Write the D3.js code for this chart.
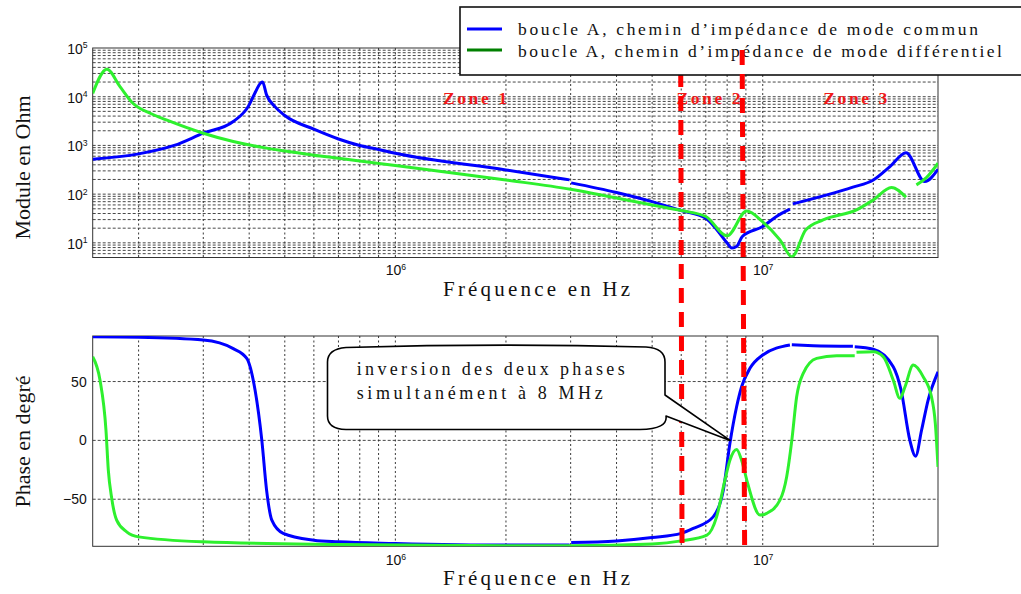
<!DOCTYPE html>
<html><head><meta charset="utf-8">
<script src="https://cdn.jsdelivr.net/npm/d3@7"></script>
<style>body{margin:0;background:#fff}svg{display:block}</style>
</head><body>
<svg id="c" width="1021" height="594"></svg>
<script>
// ---------- data ----------
const freqTickValues = [1e6, 1e7];
const magTickValues = [1e1, 1e2, 1e3, 1e4, 1e5];
const phaseTickValues = [-50, 0, 50];
const seriesNames = ["boucle A, chemin d\u2019imp\u00e9dance de mode commun",
                     "boucle A, chemin d\u2019imp\u00e9dance de mode diff\u00e9rentiel"];
const zoneLabels = ["Zone 1", "Zone 2", "Zone 3"];
const zoneLimits = [6e6, 8.9e6];
const calloutLines = ["inversion des deux phases", "simultan\u00e9ment \u00e0 8 MHz"];
const calloutTarget = [8.15e6, 0];

// module (Ohm), mode commun
const cmMag = [[1.5e5,520],[2e5,670],[2.5e5,1000],[3e5,1780],[3.62e5,3100],[4e5,6800],[4.1e5,10000],
  [4.35e5,20000],[4.46e5,10900],[4.7e5,6250],[5e5,4110],[6e5,2150],[7e5,1355],[8e5,995],[9e5,824],[1e6,689],
  [2e6,314],[2.98e6,196],null,[3.01e6,170],[4e6,108],[5e6,70],[6e6,46],[7e6,32],[7.5e6,18.5],[8e6,9.9],
  [8.24e6,7.8],[8.49e6,8.4],[8.8e6,13.5],[1e7,21.6],[1.09e7,34.7],[1.186e7,49],null,[1.207e7,63],
  [1.76e7,139],[2e7,195],[2.22e7,367],[2.455e7,711],[2.76e7,181],[3e7,324]];
// module (Ohm), mode differentiel
const dmMag = [[1.5e5,11700],[1.64e5,36600],[1.78e5,16100],[1.93e5,7350],[2.15e5,4570],[2.38e5,3330],
  [3e5,1780],[3.62e5,1200],[4.46e5,880],[5e5,771],[6e5,630],[7e5,546],[1e6,386],[2e6,195],[3e6,126],
  [4e6,83],[5e6,60],[6e6,46],[7e6,34.7],[8e6,13.9],[9.04e6,45],[1e7,27],[1.114e7,11.5],[1.2e7,5.2],
  [1.31e7,18.5],[1.46e7,29.5],[1.8e7,47.5],[2e7,76],[2.24e7,137],[2.455e7,86],null,[2.62e7,155],
  [2.79e7,218],[3e7,432]];
// phase (degres), mode commun
const cmPhase = [[1.5e5,88],[2e5,87.6],[3e5,85.3],[3.62e5,78],[3.94e5,69.7],[4.15e5,42.8],[4.33e5,0],
  [4.46e5,-42],[4.61e5,-67.8],[4.95e5,-79],[6e5,-84.8],[7e5,-86.2],[1e6,-87.6],[2e6,-89],[2.98e6,-89],
  null,[3.01e6,-86.7],[4e6,-85.4],[5e6,-82.5],[6e6,-79],[6.47e6,-74.8],[7.33e6,-65],[7.81e6,-42.3],
  [8.14e6,-2.6],[8.49e6,28.6],[8.76e6,45.6],[9.23e6,61.2],[1e7,72.5],[1.186e7,81],null,[1.2e7,81.2],
  [1.373e7,80.5],[1.76e7,80],null,[1.78e7,79.5],[2e7,77.4],[2.266e7,62.6],[2.38e7,42.8],[2.515e7,0],
  [2.607e7,-13.4],[2.707e7,8.8],[2.82e7,34.3],[3e7,58.3]];
// phase (degres), mode differentiel
const dmPhase = [[1.5e5,71],[1.57e5,51.3],[1.63e5,8.8],[1.654e5,-25],[1.69e5,-49.3],[1.743e5,-67.8],
  [1.856e5,-77.7],[2e5,-82],[3e5,-86.2],[7e5,-88.5],[2e6,-89.5],[3e6,-89.5],[5e6,-88],[6e6,-85.4],
  [7.05e6,-80.5],[7.49e6,-65],[7.89e6,-33.8],[8.14e6,-16.8],[8.49e6,-7.7],[8.76e6,-16.8],[9.1e6,-36.6],
  [9.83e6,-63.5],[1.025e7,-62],[1.114e7,-50.8],[1.162e7,-30.9],[1.2e7,0],[1.237e7,37],[1.289e7,57],
  [1.402e7,69.7],[1.589e7,72],[1.78e7,72],null,[1.8e7,74.8],[2e7,75.3],[2.13e7,71],[2.266e7,51.3],
  [2.363e7,35.7],[2.44e7,45.6],[2.568e7,64],[2.735e7,54],[2.88e7,37],[2.95e7,14.5],[3e7,-22.5]];

// ---------- layout ----------
const svg = d3.select("#c");
const L = 92.7, R = 938;
const T1 = 48, B1 = 257.5, T2 = 336, B2 = 546.3;
const blue = "#0000ff", green = "#2ef02e", red = "#ff0000";
const serif = "'Liberation Serif','Times New Roman',serif";
const sans = "'Liberation Sans',Arial,sans-serif";

const x = d3.scaleLog().domain([1.5e5, 3e7]).range([L, R]);
const yMag = d3.scaleLog().domain([5, 1e5]).range([B1, T1]);
const yPh = d3.scaleLinear().domain([-90, 88.7]).range([B2, T2]);

const xGrid = x.ticks().filter(v => v > 1.5e5 * 1.001 && v < 3e7 * 0.999);
const yGrid = yMag.ticks().filter(v => v > 5.01 && v < 0.999e5);

const defs = svg.append("defs");
defs.append("clipPath").attr("id","cp1").append("rect").attr("x",L).attr("y",T1).attr("width",R-L).attr("height",B1-T1);
defs.append("clipPath").attr("id","cp2").append("rect").attr("x",L).attr("y",T2).attr("width",R-L).attr("height",B2-T2);

function panel(yScale, top, bottom, hVals) {
  const g = svg.append("g");
  g.append("rect").attr("x",L).attr("y",top).attr("width",R-L).attr("height",bottom-top).attr("fill","#fff");
  g.selectAll(".vg").data(xGrid).join("line")
    .attr("x1",d=>x(d)).attr("x2",d=>x(d)).attr("y1",top).attr("y2",bottom)
    .attr("stroke","#222").attr("stroke-width",0.9).attr("stroke-dasharray","2,2.5");
  g.selectAll(".hg").data(hVals).join("line")
    .attr("x1",L).attr("x2",R).attr("y1",d=>yScale(d)).attr("y2",d=>yScale(d))
    .attr("stroke","#333").attr("stroke-width",0.9).attr("stroke-dasharray","3,2");
  return g;
}
panel(yMag, T1, B1, yGrid);
panel(yPh, T2, B2, phaseTickValues);

function supLabel(sel) {
  sel.each(function(d) {
    const t = d3.select(this);
    const e = Math.round(Math.log10(d));
    t.text(null);
    t.append("tspan").text("10");
    t.append("tspan").attr("dy","-0.62em").attr("font-size","0.62em").text(e);
  });
}

// axes
const ax1 = svg.append("g").attr("transform",`translate(0,${B1})`)
  .call(d3.axisBottom(x).tickValues(freqTickValues).tickSize(0).tickPadding(7.5));
const ax2 = svg.append("g").attr("transform",`translate(0,${B2})`)
  .call(d3.axisBottom(x).tickValues(freqTickValues).tickSize(0).tickPadding(8.7));
const ay1 = svg.append("g").attr("transform",`translate(${L},0)`)
  .call(d3.axisLeft(yMag).tickValues(magTickValues).tickSize(0).tickPadding(5));
const ay2 = svg.append("g").attr("transform",`translate(${L},0)`)
  .call(d3.axisLeft(yPh).tickValues(phaseTickValues).tickSize(0).tickPadding(6).tickFormat(d3.format("d")));
[ax1, ax2, ay1, ay2].forEach(a => {
  a.select(".domain").remove();
  a.attr("font-family", sans).attr("font-size", 14);
  a.selectAll("text").attr("fill","#111");
});
ax1.selectAll("text").call(supLabel);
ax2.selectAll("text").call(supLabel);
ay1.selectAll("text").call(supLabel);
ay1.selectAll("text").attr("dy","0.38em");

// frames
[[T1,B1],[T2,B2]].forEach(([t,b]) => {
  svg.append("rect").attr("x",L).attr("y",t).attr("width",R-L).attr("height",b-t)
    .attr("fill","none").attr("stroke","#333").attr("stroke-width",1);
});

// curves
const lineMag = d3.line().defined(d => d).x(d => x(d[0])).y(d => yMag(d[1])).curve(d3.curveMonotoneX);
const linePh = d3.line().defined(d => d).x(d => x(d[0])).y(d => yPh(d[1])).curve(d3.curveMonotoneX);
const c1 = svg.append("g").attr("clip-path","url(#cp1)");
c1.append("path").attr("d", lineMag(cmMag)).attr("fill","none").attr("stroke",blue).attr("stroke-width",3);
c1.append("path").attr("d", lineMag(dmMag)).attr("fill","none").attr("stroke",green).attr("stroke-width",3);
const c2 = svg.append("g").attr("clip-path","url(#cp2)");
c2.append("path").attr("d", linePh(cmPhase)).attr("fill","none").attr("stroke",blue).attr("stroke-width",3);
c2.append("path").attr("d", linePh(dmPhase)).attr("fill","none").attr("stroke",green).attr("stroke-width",3);

// axis titles
svg.append("text").attr("transform","translate(30,167.5) rotate(-90)").attr("text-anchor","middle")
  .attr("font-family",serif).attr("font-size",22).attr("fill","#111").text("Module en Ohm");
svg.append("text").attr("transform","translate(29.5,441.5) rotate(-90)").attr("text-anchor","middle")
  .attr("font-family",serif).attr("font-size",22).attr("fill","#111").text("Phase en degr\u00e9");
[296, 585].forEach(yb => {
  svg.append("text").attr("x",443).attr("y",yb).attr("font-family",serif).attr("font-size",21)
    .attr("fill","#111").attr("textLength",187).attr("lengthAdjust","spacing").text("Fr\u00e9quence en Hz");
});

// zone labels
const zoneX = [443, 676.5, 823.3];
zoneLabels.forEach((z,i) => {
  svg.append("text").attr("x", zoneX[i]).attr("y", 103.5).attr("font-family",serif).attr("font-weight","bold")
    .attr("font-size",17.5).attr("fill","#f01818").attr("textLength",64).attr("lengthAdjust","spacing").text(z);
});

// red zone limits (first)
svg.append("line").attr("x1", x(zoneLimits[0])-0.5).attr("x2", x(zoneLimits[0])+0.8).attr("y1",72).attr("y2",548)
  .attr("stroke",red).attr("stroke-width",5).attr("stroke-dasharray","15,9");

// legend
const lg = svg.append("g");
lg.append("rect").attr("x",460).attr("y",7).attr("width",620).attr("height",68)
  .attr("fill","#fff").attr("stroke","#111").attr("stroke-width",1.6);
[[blue,29,35,460],["#008000",50,56.5,484]].forEach(([col,ly,ty,tl],i) => {
  lg.append("line").attr("x1",467).attr("x2",502).attr("y1",ly).attr("y2",ly).attr("stroke",col).attr("stroke-width",3);
  lg.append("text").attr("x",518).attr("y",ty).attr("font-family",serif).attr("font-size",17.5).attr("fill","#111")
    .attr("textLength",tl).attr("lengthAdjust","spacing").text(seriesNames[i]);
});

// red zone limit (second), over legend
svg.append("line").attr("x1", x(zoneLimits[1])-2).attr("x2", x(zoneLimits[1])+0.5).attr("y1",50).attr("y2",548)
  .attr("stroke",red).attr("stroke-width",5).attr("stroke-dasharray","15,9");

// callout
const tx = x(calloutTarget[0]), ty = yPh(calloutTarget[1]);
const cp = `M327.5,362 Q327.5,349 346,347.5 Q500,343 646,347 Q665,348 665,362 L665,395 L${tx},${ty} L666,416 Q668,429 640,429.5 L346,429.5 Q327.5,429 327.5,416 Z`;
svg.append("path").attr("d",cp).attr("fill","#fff").attr("stroke","#000").attr("stroke-width",1.6).attr("stroke-linejoin","round");
calloutLines.forEach((s,i) => {
  svg.append("text").attr("x",356.7).attr("y", i ? 399.3 : 375).attr("font-family",serif).attr("font-size",18)
    .attr("fill","#111").attr("textLength", i ? 246 : 268).attr("lengthAdjust","spacing").text(s);
});
</script>
</body></html>
